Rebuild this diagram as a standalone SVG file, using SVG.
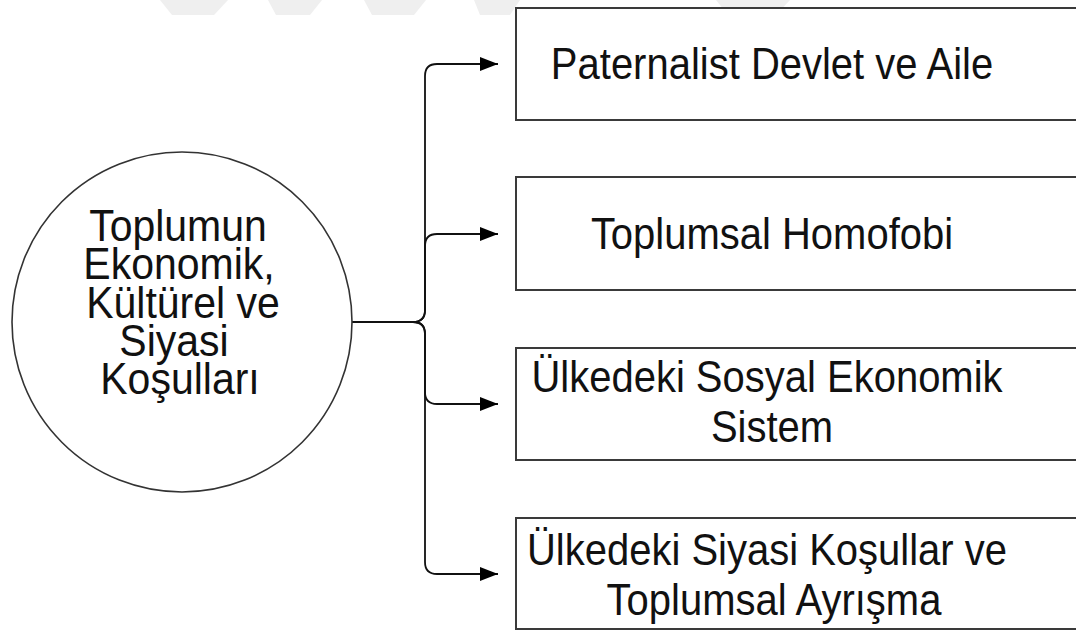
<svg xmlns="http://www.w3.org/2000/svg" width="1076" height="632" viewBox="0 0 1076 632">
  <defs>
    <marker id="arrow" viewBox="0 0 18 14" refX="18" refY="7" markerWidth="18" markerHeight="14" markerUnits="userSpaceOnUse" orient="auto">
      <path d="M0,0 L18,7 L0,14 Z" fill="#000"/>
    </marker>
    <style>
      .bg { fill: #ffffff; }
      .wm { fill: #efefef; }
      .hub { fill: #ffffff; stroke: #333333; stroke-width: 1.6; }
      .box { fill: #ffffff; stroke: #3a3a3a; stroke-width: 2; }
      .link { fill: none; stroke: #111111; stroke-width: 1.8; marker-end: url(#arrow); }
      .label { font-family: "Liberation Sans", Arial, sans-serif; fill: #111111; text-anchor: middle; }
      .hub-label { font-size: 41px; }
      .box-label { font-size: 40px; }
    </style>
  </defs>

  <rect class="bg" x="0" y="0" width="1076" height="632"/>

  <!-- faint background band along the top edge -->
  <g id="watermark">
    <polygon class="wm" points="160,0 228,0 214,15 172,15"/>
    <polygon class="wm" points="268,0 322,0 310,15 276,15"/>
    <polygon class="wm" points="364,0 426,0 414,15 372,15"/>
    <polygon class="wm" points="474,0 520,0 510,15 480,15"/>
    <polygon class="wm" points="716,0 790,0 776,15 728,15"/>
  </g>

  <!-- connectors from the central circle to each box -->
  <g id="connectors">
    <path class="link" d="M352,322 H413 Q425,322 425,310 V76 Q425,64 437,64 H498"/>
    <path class="link" d="M352,322 H413 Q425,322 425,310 V246 Q425,234 437,234 H498"/>
    <path class="link" d="M352,322 H413 Q425,322 425,334 V392 Q425,404 437,404 H498"/>
    <path class="link" d="M352,322 H413 Q425,322 425,334 V562 Q425,574 437,574 H498"/>
  </g>

  <g id="node-hub">
    <circle class="hub" cx="182" cy="322" r="170"/>
    <!-- glyphs are drawn slightly taller than wide; tspans kept on one line so no stray spaces shift the centring -->
    <text class="label hub-label" transform="translate(0,241) scale(1,1.1)"><tspan x="178" y="0">Toplumun</tspan><tspan x="179" y="34.5">Ekonomik,</tspan><tspan x="183" y="70">Kültürel ve</tspan><tspan x="174" y="104.5">Siyasi</tspan><tspan x="180" y="139">Koşulları</tspan></text>
  </g>

  <g id="node-paternalist">
    <rect class="box" x="516" y="8" width="600" height="112"/>
    <text class="label box-label" transform="translate(772,79) scale(1,1.1)">Paternalist Devlet ve Aile</text>
  </g>

  <g id="node-homofobi">
    <rect class="box" x="516" y="177" width="600" height="113"/>
    <text class="label box-label" transform="translate(772,249) scale(1,1.1)">Toplumsal Homofobi</text>
  </g>

  <g id="node-ekonomik">
    <rect class="box" x="516" y="348" width="600" height="112"/>
    <text class="label box-label" transform="translate(0,392) scale(1,1.1)"><tspan x="767" y="0">Ülkedeki Sosyal Ekonomik</tspan><tspan x="772" y="45.5">Sistem</tspan></text>
  </g>

  <g id="node-siyasi">
    <rect class="box" x="516" y="518" width="600" height="111"/>
    <text class="label box-label" transform="translate(0,565) scale(1,1.1)"><tspan x="767" y="0">Ülkedeki Siyasi Koşullar ve</tspan><tspan x="774" y="45.5">Toplumsal Ayrışma</tspan></text>
  </g>
</svg>
